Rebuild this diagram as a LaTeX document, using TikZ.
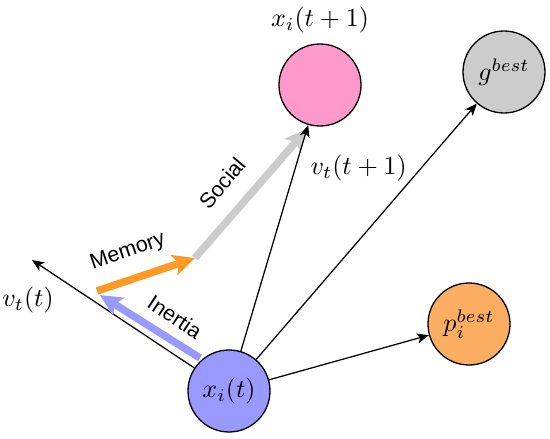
\documentclass[tikz,border=0pt]{standalone}
\usepackage{fontspec}
\setsansfont{Liberation Sans}
\usetikzlibrary{arrows.meta}
\definecolor{lav}{HTML}{9999FF}
\definecolor{pinkc}{HTML}{FF99CC}
\definecolor{grayc}{HTML}{CCCCCC}
\definecolor{porange}{HTML}{FBAE62}
\definecolor{morange}{HTML}{FF9926}
\tikzset{
  circ/.style={circle, draw=black, line width=1.3pt, minimum size=82pt, inner sep=0pt},
  mlabel/.style={inner sep=0pt, scale=2.6},
  slabel/.style={font=\sffamily\fontsize{21.5}{24}\selectfont, inner sep=0pt},
  conn/.style={line width=1.25pt, -{Stealth[length=12pt, width=10pt, inset=3pt]}},
  fat/.style={line width=7.5pt, -{Stealth[length=22pt, width=21pt, inset=5pt]}}
}
\begin{document}
\begin{tikzpicture}[x=1pt, y=-1pt]
\useasboundingbox (0,0) rectangle (550,439);
% nodes
\node[circ, fill=lav] (xi) at (229,391) {};
\node[circ, fill=pinkc] (xn) at (320,85) {};
\node[circ, fill=grayc] (g) at (504,72) {};
\node[circ, fill=porange] (p) at (469,324) {};
\node[mlabel] (xit) at (229,391) {$x_i(t)$};
\node[mlabel] (gt) at (504,72) {$g^{best}$};
\node[mlabel] (pt) at (469,324) {$p_i^{best}$};
\node[mlabel] (xnl) at (320,20) {$x_i(t+1)$};
\node[mlabel, anchor=west] (vnl) at (310,168) {$v_t(t+1)$};
\node[mlabel] (vtl) at (28,300) {$v_t(t)$};
% free ends
\coordinate (vt) at (32,260);
\coordinate (ia) at (200,358);
\coordinate (ib) at (100,295);
\coordinate (ma) at (97,291);
\coordinate (mb) at (195,258);
\coordinate (sb) at (307,129);
% black connectors
\draw[conn] (xi) -- (vt);
\draw[conn] (xi) -- (g);
\draw[conn] (xi) -- (p);
% thick component arrows
\draw[fat, color=grayc] (mb) -- (sb);
\draw[fat, color=lav] (ia) -- (ib);
\draw[fat, color=morange] (ma) -- (mb);
\draw[conn] (xi) -- (xn);
% labels
\node[slabel, rotate=19] (mem) at (128,252) {Memory};
\node[slabel, rotate=-33.5] (ine) at (175,317) {Inertia};
\node[slabel, rotate=50] (soc) at (222,183) {Social};
\end{tikzpicture}
\end{document}
